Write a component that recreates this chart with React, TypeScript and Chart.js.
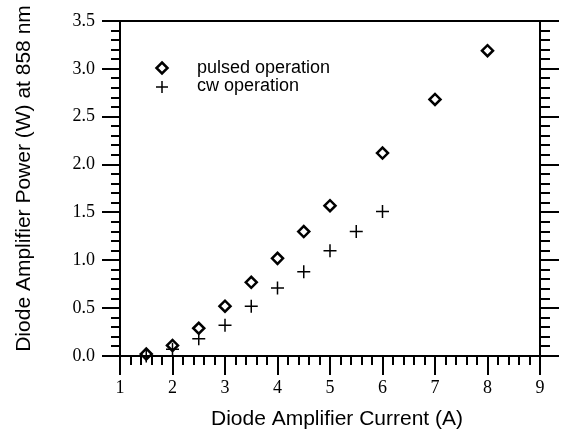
import React, { useEffect, useRef } from "react";
import { Chart, registerables } from "chart.js";

Chart.register(...registerables);

const pulsedCurrent = [1.5, 2, 2.5, 3, 3.5, 4, 4.5, 5, 6, 7, 8];
const pulsedPower = [0.02, 0.11, 0.29, 0.52, 0.77, 1.02, 1.3, 1.57, 2.12, 2.68, 3.19];
const cwCurrent = [1.5, 2, 2.5, 3, 3.5, 4, 4.5, 5, 5.5, 6];
const cwPower = [0.0, 0.07, 0.18, 0.32, 0.52, 0.71, 0.88, 1.1, 1.3, 1.51];

const xTicks = [1, 2, 3, 4, 5, 6, 7, 8, 9];
const yTicks = [0, 0.5, 1, 1.5, 2, 2.5, 3, 3.5];
const legendLabels = ["pulsed operation", "cw operation"];
const xTitle = "Diode Amplifier Current (A)";
const yTitle = "Diode Amplifier Power (W) at 858 nm";

const W = 567;
const H = 447;

const decorPlugin = {
  id: "decor",
  afterDraw(chart: any) {
    const ctx = chart.ctx;
    const { x, y } = chart.scales;
    const area = chart.chartArea;
    const MAJ = 18;
    const MIN = 9;
    ctx.save();
    ctx.strokeStyle = "#000";
    ctx.lineWidth = 2;
    ctx.lineCap = "butt";
    ctx.beginPath();
    const yMin = yTicks[0];
    const yMax = yTicks[yTicks.length - 1];
    const ny = Math.round((yMax - yMin) / 0.1);
    for (let i = 0; i <= ny; i++) {
      const v = yMin + i / 10;
      const py = Math.round(y.getPixelForValue(v));
      const len = i % 5 === 0 ? MAJ : MIN;
      ctx.moveTo(area.left - len, py);
      ctx.lineTo(area.left, py);
      ctx.moveTo(area.right, py);
      ctx.lineTo(area.right + len + 1, py);
    }
    const xMin = xTicks[0];
    const xMax = xTicks[xTicks.length - 1];
    const nx = Math.round((xMax - xMin) / 0.2);
    for (let i = 0; i <= nx; i++) {
      const v = xMin + i / 5;
      const px = Math.round(x.getPixelForValue(v));
      const len = i % 5 === 0 ? MAJ + 1 : MIN;
      ctx.moveTo(px, area.bottom);
      ctx.lineTo(px, area.bottom + len);
    }
    ctx.stroke();

    // legend
    const lx = area.left + 42;
    const ly1 = area.top + 47;
    const ly2 = area.top + 66;
    ctx.lineWidth = 2.5;
    ctx.beginPath();
    const r = 5.5;
    ctx.moveTo(lx, ly1 - r);
    ctx.lineTo(lx + r, ly1);
    ctx.lineTo(lx, ly1 + r);
    ctx.lineTo(lx - r, ly1);
    ctx.closePath();
    ctx.stroke();
    ctx.lineWidth = 1.5;
    ctx.beginPath();
    ctx.moveTo(lx - 6, ly2);
    ctx.lineTo(lx + 6, ly2);
    ctx.moveTo(lx, ly2 - 6);
    ctx.lineTo(lx, ly2 + 6);
    ctx.stroke();
    ctx.fillStyle = "#000";
    ctx.font = "18px 'Liberation Sans', Arial, sans-serif";
    ctx.textAlign = "left";
    ctx.textBaseline = "middle";
    ctx.fillText(legendLabels[0], lx + 35, ly1);
    ctx.fillText(legendLabels[1], lx + 35, ly2 - 1);

    // axis titles
    ctx.font = "21px 'Liberation Sans', Arial, sans-serif";
    ctx.textAlign = "center";
    ctx.textBaseline = "middle";
    ctx.fillText(xTitle, (area.left + area.right) / 2 + 7, 419);
    ctx.translate(24, (area.top + area.bottom) / 2 - 10);
    ctx.rotate(-Math.PI / 2);
    ctx.fillText(yTitle, 0, 0);
    ctx.restore();
  },
};

export default function App() {
  const ref = useRef<HTMLCanvasElement | null>(null);

  useEffect(() => {
    if (!ref.current) return;
    const tickFont = { family: "'Liberation Serif', 'Times New Roman', serif", size: 18 };
    const chart = new Chart(ref.current, {
      type: "scatter",
      data: {
        datasets: [
          {
            label: legendLabels[0],
            data: pulsedCurrent.map((c, i) => ({ x: c, y: pulsedPower[i] })),
            pointStyle: "rectRot",
            pointRadius: 5.5,
            pointBorderWidth: 2.5,
            borderColor: "#000",
            backgroundColor: "rgba(255,255,255,0)",
            clip: false,
          },
          {
            label: legendLabels[1],
            data: cwCurrent.map((c, i) => ({ x: c, y: cwPower[i] })),
            pointStyle: "cross",
            pointRadius: 6.5,
            pointBorderWidth: 1.5,
            borderColor: "#000",
            backgroundColor: "#000",
            clip: false,
          },
        ],
      },
      options: {
        responsive: false,
        animation: false,
        layout: { padding: 0 },
        plugins: {
          legend: { display: false },
          tooltip: { enabled: false },
        },
        scales: {
          x: {
            type: "linear",
            position: "bottom",
            min: xTicks[0],
            max: xTicks[xTicks.length - 1],
            afterBuildTicks: (s: any) => {
              s.ticks = xTicks.map((v) => ({ value: v }));
            },
            ticks: { font: tickFont, color: "#000", padding: 0, callback: (v: any) => String(v) },
            grid: { display: false, drawTicks: true, tickLength: 21 },
            border: { display: true, color: "#000", width: 2 },
            afterFit: (s: any) => {
              s.height = H - 356;
            },
          },
          x2: {
            type: "linear",
            position: "top",
            display: true,
            min: xTicks[0],
            max: xTicks[xTicks.length - 1],
            ticks: { display: false },
            grid: { display: false, drawTicks: false },
            border: { display: true, color: "#000", width: 2 },
            afterFit: (s: any) => {
              s.height = 21;
            },
          },
          y: {
            type: "linear",
            position: "left",
            min: yTicks[0],
            max: yTicks[yTicks.length - 1],
            afterBuildTicks: (s: any) => {
              s.ticks = yTicks.map((v) => ({ value: v }));
            },
            ticks: { font: tickFont, color: "#000", padding: 0, callback: (v: any) => Number(v).toFixed(1) },
            grid: { display: false, drawTicks: true, tickLength: 25 },
            border: { display: true, color: "#000", width: 2 },
            afterFit: (s: any) => {
              s.width = 120;
            },
          },
          y2: {
            type: "linear",
            position: "right",
            display: true,
            min: yTicks[0],
            max: yTicks[yTicks.length - 1],
            ticks: { display: false },
            grid: { display: false, drawTicks: false },
            border: { display: true, color: "#000", width: 2 },
            afterFit: (s: any) => {
              s.width = W - 540;
            },
          },
        },
      } as any,
      plugins: [decorPlugin],
    });
    return () => chart.destroy();
  }, []);

  return (
    <div style={{ position: "absolute", left: 0, top: 0, width: W, height: H, background: "#fff" }}>
      <canvas ref={ref} width={W} height={H} style={{ display: "block", width: W, height: H }} />
    </div>
  );
}
